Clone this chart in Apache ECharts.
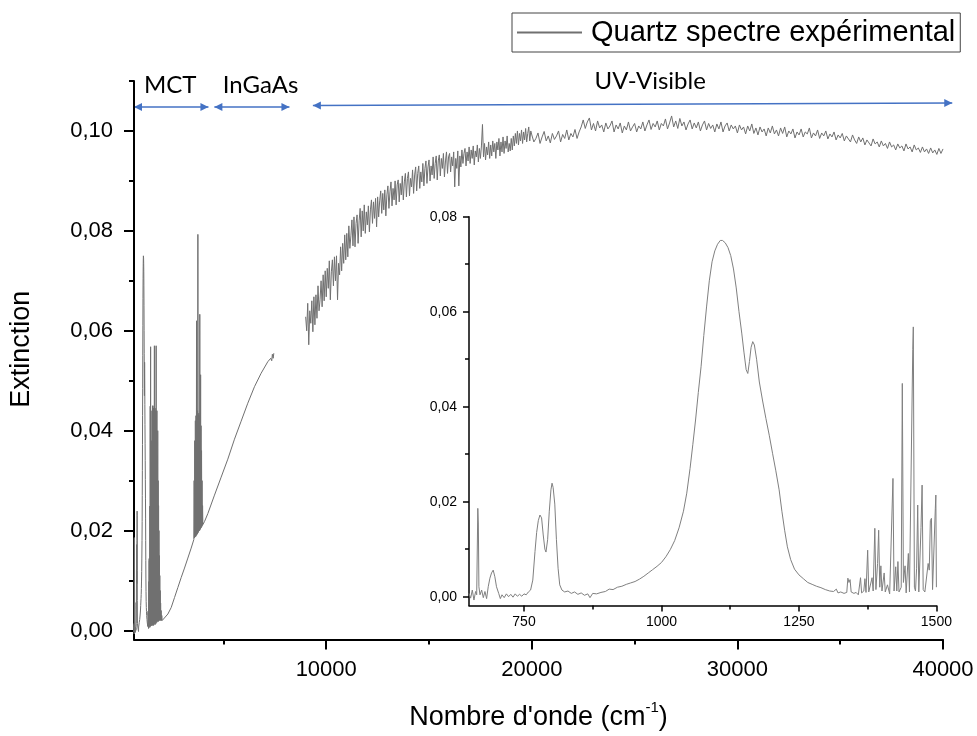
<!DOCTYPE html>
<html>
<head>
<meta charset="utf-8">
<script src="https://cdn.jsdelivr.net/npm/echarts@6/dist/echarts.min.js"></script>
<style>
html,body{margin:0;padding:0;background:#fff;}
#c{width:977px;height:736px;}
</style>
</head>
<body>
<div id="c"></div>
<script>
// ---------- DATA ----------
const seriesName = 'Quartz spectre expérimental';
// Inset region (wavenumber cm-1, extinction) 650-1500
const insetPts = [
[650,0.0007],[653,-0.0003],[656,0.0014],[659,-0.0007],[662,0.0011],[664,0.0004],[666,0.0186],[667,0.0153],[668,0.0021],[670,0.0004],
[673,0.0014],[676,-0.0002],[679,0.0011],[682,-0.0004],[685,0.0021],[688,0.0039],[691,0.0050],[694,0.0056],[697,0.0042],[700,0.0021],
[704,0.0007],[707,-0.0004],[710,0.0004],[714,-0.0002],[718,0.0006],[722,0.0000],[726,0.0005],[730,-0.0001],[734,0.0006],[738,0.0001],
[742,0.0005],[746,0.0001],[750,0.0006],[754,0.0004],[758,0.0010],[762,0.0014],[766,0.0035],[770,0.0095],[773,0.0135],[776,0.0160],
[779,0.0172],[782,0.0166],[785,0.0130],[788,0.0100],[790,0.0094],[793,0.0120],[796,0.0180],[799,0.0225],[801,0.0239],[803,0.0230],
[806,0.0195],[809,0.0120],[812,0.0060],[815,0.0025],[819,0.0014],[824,0.0010],[830,0.0012],[836,0.0007],[842,0.0010],[848,0.0005],
[854,0.0008],[860,0.0003],[866,0.0006],[870,-0.0002],[875,0.0007],[882,0.0006],[890,0.0009],[898,0.0011],[905,0.0016],[912,0.0015],
[920,0.0020],[928,0.0022],[936,0.0026],[944,0.0029],[952,0.0032],[960,0.0037],[968,0.0043],[976,0.0050],[984,0.0057],[992,0.0064],
[1000,0.0072],[1008,0.0084],[1016,0.0099],[1024,0.0118],[1032,0.0145],[1040,0.0180],[1046,0.0218],[1052,0.0270],[1057,0.0320],[1062,0.0372],
[1067,0.0430],[1072,0.0484],[1077,0.0550],[1082,0.0610],[1087,0.0665],[1092,0.0705],[1097,0.0728],[1102,0.0742],[1107,0.0750],[1111,0.0750],
[1116,0.0745],[1121,0.0735],[1126,0.0718],[1131,0.0690],[1136,0.0650],[1141,0.0600],[1146,0.0555],[1150,0.0515],[1154,0.0478],[1157,0.0470],
[1160,0.0495],[1163,0.0525],[1166,0.0537],[1169,0.0530],[1173,0.0500],[1178,0.0452],[1184,0.0412],[1190,0.0375],[1196,0.0340],[1202,0.0302],
[1208,0.0265],[1214,0.0225],[1219,0.0180],[1224,0.0140],[1229,0.0105],[1235,0.0078],[1242,0.0058],[1250,0.0046],[1258,0.0038],[1266,0.0030],
[1274,0.0026],[1282,0.0022],[1290,0.0019],[1298,0.0015],[1306,0.0012],[1313,0.0011],[1318,0.0016],[1321,0.0008],[1326,0.0010],[1332,0.0007],
[1337,0.0009],[1339,0.0039],[1341,0.0030],[1343,0.0036],[1345,0.0010],[1350,0.0007],[1354,0.0009],[1358,0.0004],[1362,0.0040],[1364,0.0008],
[1368,0.0012],[1370,0.0038],[1372,0.0009],[1375,0.0098],[1377,0.0010],[1380,0.0008],[1383,0.0040],[1385,0.0012],[1388,0.0144],[1390,0.0015],
[1393,0.0070],[1395,0.0140],[1397,0.0020],[1399,0.0065],[1401,0.0012],[1405,0.0050],[1407,0.0010],[1411,0.0025],[1415,0.0006],[1418,0.0008],
[1421,0.0249],[1423,0.0012],[1426,0.0063],[1428,0.0012],[1430,0.0074],[1432,0.0010],[1436,0.0020],[1438,0.0449],[1440,0.0030],[1443,0.0065],
[1445,0.0008],[1449,0.0091],[1451,0.0010],[1454,0.0006],[1457,0.0520],[1458,0.0568],[1460,0.0020],[1462,0.0012],[1464,0.0060],[1466,0.0193],
[1468,0.0010],[1470,0.0008],[1472,0.0146],[1474,0.0235],[1476,0.0015],[1479,0.0010],[1482,0.0012],[1485,0.0070],[1487,0.0056],[1489,0.0160],
[1491,0.0165],[1493,0.0015],[1496,0.0012],[1498,0.0185],[1499,0.0214],[1500,0.0020]
];
// MCT detector region beyond 1500 cm-1
const mctPts = [
[1505,0.0010],[1512,0.0380],[1518,0.0012],[1525,0.0440],[1531,0.0015],[1538,0.0300],[1545,0.0010],[1552,0.0450],[1558,0.0020],[1565,0.0420],
[1572,0.0012],[1580,0.0350],[1587,0.0015],[1595,0.0445],[1602,0.0010],[1610,0.0400],[1618,0.0018],[1626,0.0450],[1634,0.0012],[1642,0.0570],
[1650,0.0015],[1658,0.0430],[1666,0.0020],[1675,0.0445],[1683,0.0012],[1692,0.0380],[1700,0.0018],[1710,0.0440],[1718,0.0014],[1727,0.0570],
[1735,0.0020],[1745,0.0420],[1755,0.0016],[1765,0.0440],[1775,0.0020],[1785,0.0350],[1795,0.0018],[1805,0.0400],[1815,0.0020],[1825,0.0300],
[1835,0.0018],[1845,0.0250],[1855,0.0020],[1865,0.0200],[1875,0.0022],[1885,0.0150],[1895,0.0020],[1905,0.0110],[1915,0.0022],[1925,0.0080],
[1935,0.0020],[1945,0.0055],[1955,0.0022],[1970,0.0040],[1985,0.0020],[2000,0.0030],[2020,0.0020],[2050,0.0018],[2103,0.0017],[2297,0.0033],
[2459,0.0046],[2621,0.0066],[2783,0.0086],[2945,0.0106],[3107,0.0125],[3269,0.0145],[3431,0.0165],[3560,0.0182],
[3575,0.0300],[3590,0.0185],[3605,0.0380],[3620,0.0187],[3635,0.0420],[3650,0.0188],[3665,0.0430],[3680,0.0190],[3692,0.0620],[3705,0.0192],
[3718,0.0430],[3730,0.0193],[3742,0.0440],[3750,0.0195],[3757,0.0793],[3765,0.0196],[3778,0.0430],[3790,0.0198],[3802,0.0435],[3815,0.0200],
[3828,0.0430],[3840,0.0200],[3850,0.0633],[3860,0.0202],[3872,0.0425],[3882,0.0203],[3890,0.0512],[3898,0.0205],[3910,0.0410],[3922,0.0206],
[3935,0.0360],[3948,0.0208],[3960,0.0300],[3972,0.0210],[3985,0.0250],[4000,0.0212]
];
// InGaAs detector region
const ingaasPts = [
[4079,0.0218],[4241,0.0234],[4565,0.0271],[4889,0.0307],[5213,0.0343],[5537,0.0383],[5861,0.0419],[6185,0.0455],[6509,0.0488],[6833,0.0515],
[7157,0.0538],[7300,0.0545],[7350,0.0540],[7380,0.0553],[7420,0.0545],[7450,0.0555]
];
// UV-Visible region: 9000-19950 cm-1 every 50, then 20000-40000 every 100
const uvStartA = 9000, uvStepA = 50;
const uvExtA = [
0.0628,0.0600,0.0655,0.0572,0.0640,0.0615,0.0660,0.0598,0.0668,0.0612,
0.0672,0.0625,0.0690,0.0640,0.0662,0.0700,0.0648,0.0712,0.0660,0.0720,
0.0668,0.0725,0.0685,0.0740,0.0662,0.0718,0.0742,0.0690,0.0748,0.0700,
0.0750,0.0662,0.0735,0.0712,0.0768,0.0720,0.0775,0.0735,0.0792,0.0742,
0.0795,0.0748,0.0810,0.0765,0.0790,0.0822,0.0770,0.0828,0.0768,0.0815,
0.0832,0.0775,0.0820,0.0845,0.0788,0.0840,0.0800,0.0852,0.0795,0.0838,
0.0812,0.0850,0.0798,0.0842,0.0862,0.0815,0.0858,0.0825,0.0865,0.0808,
0.0868,0.0828,0.0860,0.0880,0.0835,0.0875,0.0842,0.0882,0.0830,0.0872,
0.0890,0.0845,0.0878,0.0898,0.0850,0.0885,0.0862,0.0900,0.0852,0.0892,
0.0902,0.0858,0.0895,0.0872,0.0910,0.0862,0.0898,0.0915,0.0868,0.0905,
0.0918,0.0870,0.0905,0.0888,0.0922,0.0875,0.0912,0.0928,0.0880,0.0915,
0.0930,0.0885,0.0918,0.0898,0.0935,0.0890,0.0925,0.0940,0.0895,0.0928,
0.0942,0.0900,0.0930,0.0912,0.0948,0.0905,0.0935,0.0950,0.0902,0.0940,
0.0952,0.0910,0.0945,0.0925,0.0955,0.0908,0.0940,0.0958,0.0915,0.0948,
0.0955,0.0918,0.0948,0.0930,0.0958,0.0888,0.0945,0.0925,0.0960,0.0890,
0.0950,0.0928,0.0962,0.0935,0.0955,0.0965,0.0930,0.0958,0.0940,0.0968,
0.0935,0.0962,0.0945,0.0970,0.0932,0.0960,0.0948,0.0972,0.0938,0.0965,
0.0945,0.0970,0.1013,0.0948,0.0975,0.0942,0.0968,0.0952,0.0978,0.0945,
0.0972,0.0950,0.0980,0.0958,0.0975,0.0945,0.0978,0.0962,0.0985,0.0950,
0.0978,0.0958,0.0988,0.0955,0.0980,0.0965,0.0990,0.0958,0.0975,0.0960,
0.0985,0.0962,0.0990,0.0970,0.0995,0.0975,0.1000,0.0972,0.0995,0.0980,
0.1002,0.0975,0.0998,0.0982,0.1005,0.0978,0.0995,0.1008,0.0980,0.1000
];
const uvStartB = 20000, uvStepB = 100;
const uvExtB = [
0.0992,0.0978,0.0985,0.0996,0.0975,0.0988,0.0999,0.0980,0.0990,0.0976,
0.0995,0.0983,0.0990,0.1000,0.0978,0.0993,0.0985,0.1002,0.0982,0.0995,
0.0988,0.1003,0.0985,0.0998,0.1008,0.1022,0.1005,0.1018,0.1026,0.1002,
0.1015,0.1000,0.1020,0.1006,0.1012,0.0998,0.1016,0.1004,0.1010,0.1020,
0.0998,0.1012,0.1004,0.1016,0.0996,0.1010,0.1002,0.1018,0.1000,0.1008,
0.1015,0.0998,0.1010,0.1004,0.1018,0.1000,0.1012,0.1022,0.1003,0.1015,
0.1008,0.1020,0.1002,0.1015,0.1010,0.1024,0.1004,0.1016,0.1030,0.1008,
0.1020,0.1005,0.1025,0.1010,0.1018,0.1002,0.1014,0.1022,0.1004,0.1016,
0.1006,0.1018,0.1000,0.1012,0.1020,0.1002,0.1015,0.1005,0.1012,0.0998,
0.1014,0.1004,0.1018,0.0998,0.1010,0.1016,0.1000,0.1012,0.1004,0.1010,
0.0996,0.1012,0.1002,0.1008,0.0994,0.1010,0.1000,0.1014,0.0995,0.1006,
0.0992,0.1008,0.0998,0.1004,0.0990,0.1006,0.0996,0.1010,0.0994,0.1002,
0.0990,0.1006,0.0995,0.1008,0.0988,0.1000,0.0994,0.1004,0.0986,0.0998,
0.0992,0.1004,0.0988,0.0998,0.0994,0.1006,0.0986,0.0996,0.0990,0.1002,
0.0985,0.0996,0.0990,0.1000,0.0984,0.0994,0.0988,0.0998,0.0982,0.0992,
0.0986,0.0995,0.0980,0.0990,0.0984,0.0978,0.0992,0.0982,0.0975,0.0988,
0.0978,0.0986,0.0972,0.0982,0.0976,0.0970,0.0984,0.0974,0.0978,0.0968,
0.0980,0.0970,0.0975,0.0965,0.0978,0.0968,0.0972,0.0962,0.0974,0.0966,
0.0970,0.0960,0.0974,0.0964,0.0968,0.0958,0.0972,0.0962,0.0966,0.0957,
0.0968,0.0958,0.0964,0.0955,0.0966,0.0956,0.0962,0.0953,0.0965,0.0955,
0.0964
];
// tick labels
const mainXTicks = [10000, 20000, 30000, 40000];
const mainXMinor = [5000, 15000, 25000, 35000];
const mainYTicks = [0, 0.02, 0.04, 0.06, 0.08, 0.10];
const mainYMinor = [0.01, 0.03, 0.05, 0.07, 0.09, 0.11];
const insetXTicks = [750, 1000, 1250, 1500];
const insetXMinor = [875, 1125, 1375];
const insetYTicks = [0, 0.02, 0.04, 0.06, 0.08];
const insetYMinor = [0.01, 0.03, 0.05, 0.07];
// detector ranges (annotations)
const regionNames = ['MCT', 'InGaAs', 'UV-Visible'];
const regionFrom = [[650, 0.1048], [4560, 0.1048], [9350, 0.1051]];
const regionTo = [[4270, 0.1048], [8210, 0.1048], [40450, 0.1056]];
const regionLabelAt = [[2410, 0.1092], [6810, 0.1092], [25760, 0.1099]];

// ---------- BUILD ----------
const uvPts = uvExtA.map((v, i) => [uvStartA + i * uvStepA, v])
  .concat(uvExtB.map((v, i) => [uvStartB + i * uvStepB, v]));
const mainPts = insetPts.concat(mctPts, ingaasPts, [[8200, '-']], uvPts);

const FONT = 'Liberation Sans, Arial, sans-serif';
const fmt = v => v.toFixed(2).replace('.', ',');

function axisPair(grid, dim, min, max, major, minor, opt) {
  const base = {
    type: 'value', gridIndex: grid, min: min, max: max, scale: false,
    splitLine: { show: false },
    position: dim === 'x' ? 'bottom' : 'left'
  };
  const a = Object.assign({}, base, {
    axisLine: { show: true, onZero: false, lineStyle: { color: '#000', width: opt.lw } },
    axisTick: { show: true, customValues: major, length: opt.tl, lineStyle: { color: '#000', width: opt.lw } },
    axisLabel: { show: true, customValues: major, margin: opt.margin, fontSize: opt.fs, fontFamily: FONT, color: '#000',
      formatter: dim === 'x' ? (v => String(v)) : fmt, showMinLabel: true, showMaxLabel: true }
  }, opt.extra || {});
  const b = Object.assign({}, base, {
    axisLine: { show: false, onZero: false },
    axisTick: { show: true, customValues: minor, length: opt.ml, lineStyle: { color: '#000', width: opt.lw } },
    axisLabel: { show: false }
  });
  return [a, b];
}

const mx = axisPair(0, 'x', 650, 40000, mainXTicks, mainXMinor, {
  lw: 2, tl: 10, ml: 5, margin: 19, fs: 22,
  extra: {
    name: "{t|Nombre d'onde (cm}{s|-1}{t|)}", nameLocation: 'middle', nameGap: 61,
    nameTextStyle: { rich: {
      t: { fontSize: 27, fontFamily: FONT, color: '#000', lineHeight: 34 },
      s: { fontSize: 15, fontFamily: FONT, color: '#000', lineHeight: 15, verticalAlign: 'top' }
    } }
  }
});
const my = axisPair(0, 'y', -0.0018, 0.11, mainYTicks, mainYMinor, {
  lw: 2, tl: 10, ml: 5, margin: 21, fs: 22,
  extra: {
    name: 'Extinction', nameLocation: 'middle', nameGap: 99,
    nameTextStyle: { fontSize: 27, fontFamily: FONT, color: '#000', padding: [0, 0, 0, 22] }
  }
});
const ix = axisPair(1, 'x', 650, 1500, insetXTicks, insetXMinor, { lw: 1.5, tl: 6, ml: 4, margin: 10, fs: 14 });
const iy = axisPair(1, 'y', -0.00185, 0.08, insetYTicks, insetYMinor, { lw: 1.5, tl: 6, ml: 4, margin: 12, fs: 14 });

const option = {
  backgroundColor: '#fff',
  animation: false,
  grid: [
    { left: 133, right: 34, top: 81, bottom: 90, containLabel: false },
    { left: 469, right: 40.6, top: 216.7, bottom: 130.5, containLabel: false }
  ],
  legend: {
    data: [seriesName], left: 512, top: 13,
    itemWidth: 65, itemHeight: 14,
    padding: [4, 5, 4, 4],
    borderColor: '#444', borderWidth: 1,
    textStyle: { fontSize: 29, fontFamily: FONT, color: '#000', lineHeight: 31, padding: [0, 0, 0, 4] },
    itemStyle: { opacity: 0 }
  },
  xAxis: [mx[0], mx[1], ix[0], ix[1]],
  yAxis: [my[0], my[1], iy[0], iy[1]],
  series: [
    {
      name: seriesName, type: 'line', xAxisIndex: 0, yAxisIndex: 0,
      data: mainPts, showSymbol: false, symbol: 'none', connectNulls: false,
      color: '#707070', lineStyle: { color: '#707070', width: 1 }, clip: true
    },
    {
      name: 'Quartz 650-1500', type: 'line', xAxisIndex: 2, yAxisIndex: 2,
      data: insetPts, showSymbol: false, symbol: 'none',
      color: '#808080', lineStyle: { color: '#808080', width: 1 }, clip: true
    }
  ]
};

const chart = echarts.init(document.getElementById('c'), null, { renderer: 'canvas' });
chart.setOption(option);

// annotations (detector ranges) positioned through the main axes
const toPx = p => chart.convertToPixel({ seriesIndex: 0 }, p);
const ARROW = '#4472C4';
function arrow(p1, p2) {
  const dx = p2[0] - p1[0], dy = p2[1] - p1[1], L = Math.hypot(dx, dy), ux = dx / L, uy = dy / L;
  const hl = 8, hw = 4;
  const head = (t, d) => ({
    type: 'polygon', silent: true,
    shape: { points: [t, [t[0] - d * ux * hl - uy * hw, t[1] - d * uy * hl + ux * hw], [t[0] - d * ux * hl + uy * hw, t[1] - d * uy * hl - ux * hw]] },
    style: { fill: ARROW }
  });
  return [
    { type: 'line', silent: true, shape: { x1: p1[0], y1: p1[1], x2: p2[0], y2: p2[1] }, style: { stroke: ARROW, lineWidth: 1.3 } },
    head(p2, 1), head(p1, -1)
  ];
}
const graphics = [];
regionNames.forEach((n, i) => {
  graphics.push(...arrow(toPx(regionFrom[i]), toPx(regionTo[i])));
  const lp = toPx(regionLabelAt[i]);
  graphics.push({ type: 'text', silent: true, x: lp[0], y: lp[1],
    style: { text: n, font: '24px Lato', fill: '#000', align: 'center', verticalAlign: 'middle' } });
});
chart.setOption({ graphic: graphics });
</script>
</body>
</html>
